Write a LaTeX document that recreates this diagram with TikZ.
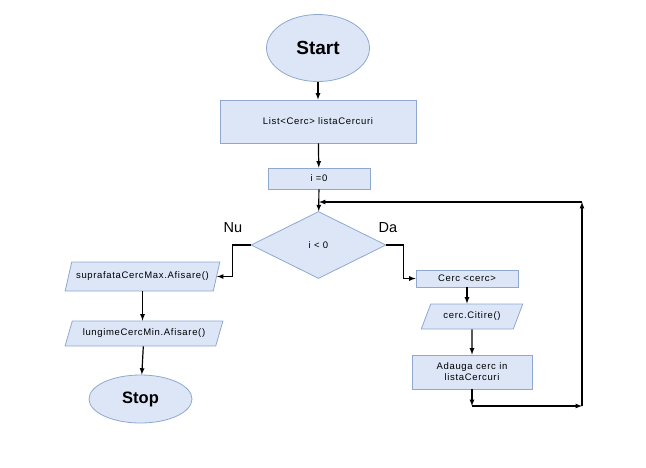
\documentclass[tikz,border=0pt]{standalone}
\usepackage{fontspec}
\setmainfont{Liberation Sans}
\newfontfamily\gesperrt[LetterSpace=7]{Liberation Sans}
\usetikzlibrary{shapes.geometric}

\definecolor{Fuellung}{HTML}{DCE6F7}
\definecolor{Rand}{HTML}{8FA8D0}

\begin{document}
\begin{tikzpicture}[%
    x=1pt, y=-1pt,
    font=\gesperrt\fontsize{9.5}{11}\selectfont,
    >=latex % Pfeilspitzen
    ]
        \useasboundingbox (0,0) rectangle (646,467);

        \tikzset{
            Block/.style={draw=Rand,fill=Fuellung,line width=0.8pt,inner sep=1pt,align=center},
            Kasten/.style={Block,rectangle},
            Oval/.style={Block,ellipse,font=\rmfamily\fontsize{#1}{#1}\selectfont\bfseries},
            Raute/.style={Block,diamond,aspect=2},
            EinAus/.style={Block,trapezium,trapezium stretches=true,
                trapezium left angle=#1,trapezium right angle=180-#1},
            Pfeil/.style={line width=1.2pt,->},
            Marke/.style={font=\rmfamily\fontsize{14.5}{15}\selectfont}
        }

        % Bloecke
        \node[Oval=19, minimum width=103pt, minimum height=67pt] (start) at (318,48) {Start};
        \node[Kasten, minimum width=196pt, minimum height=43pt] (liste) at (318,121.5) {List<Cerc> listaCercuri};
        \node[Kasten, minimum width=102pt, minimum height=21pt] (init) at (319,178.5) {i =0};
        \node[Raute, minimum width=135pt, minimum height=67pt] (test) at (318.5,245) {i < 0};
        \node[Kasten, minimum width=102pt, minimum height=17pt] (cerc) at (467,278.5) {Cerc <cerc>};
        \node[EinAus=58, minimum width=102pt, minimum height=25pt] (citire) at (472,316.5) {cerc.Citire()};
        \node[Kasten, minimum width=120pt, minimum height=34pt] (adauga) at (472,372) {Adauga cerc in\\listaCercuri};
        \node[EinAus=60, minimum width=155pt, minimum height=29pt] (supra) at (142.5,276.5) {suprafataCercMax.Afisare()};
        \node[EinAus=60, minimum width=158pt, minimum height=25pt] (lungime) at (144,333.5) {lungimeCercMin.Afisare()};
        \node[Oval=16.5, minimum width=103pt, minimum height=48pt] (stop) at (140.5,399) {Stop};

        % Beschriftung
        \node[Marke] (nu) at (233,228) {Nu};
        \node[Marke] (da) at (388,228) {Da};

        % Ruecksprung
        \coordinate (u1) at (472,406);
        \coordinate (u2) at (582,406);
        \coordinate (u3) at (582,202);
        \coordinate (u4) at (319,202);

        % Verbindungen
        \draw[Pfeil] (start) -- (liste);
        \draw[Pfeil] (liste) -- (init);
        \draw[Pfeil] (init) -- (test);
        \draw[Pfeil] (test.west) -- ++(-18,0) |- (supra);
        \draw[Pfeil] (test.east) -- ++(17,0) |- (cerc);
        \draw[Pfeil] (cerc.south) -- (cerc.south |- citire.north);
        \draw[Pfeil] (citire) -- (adauga);
        \draw[Pfeil] (adauga) -- (u1);
        \draw[Pfeil] (u1) -- (u2);
        \draw[Pfeil] (u2) -- (u3);
        \draw[Pfeil] (u3) -- (u4);
        \draw[Pfeil] (supra.south) -- (supra.south |- lungime.north);
        \draw[Pfeil] (lungime) -- (stop);
    \end{tikzpicture}
\end{document}
